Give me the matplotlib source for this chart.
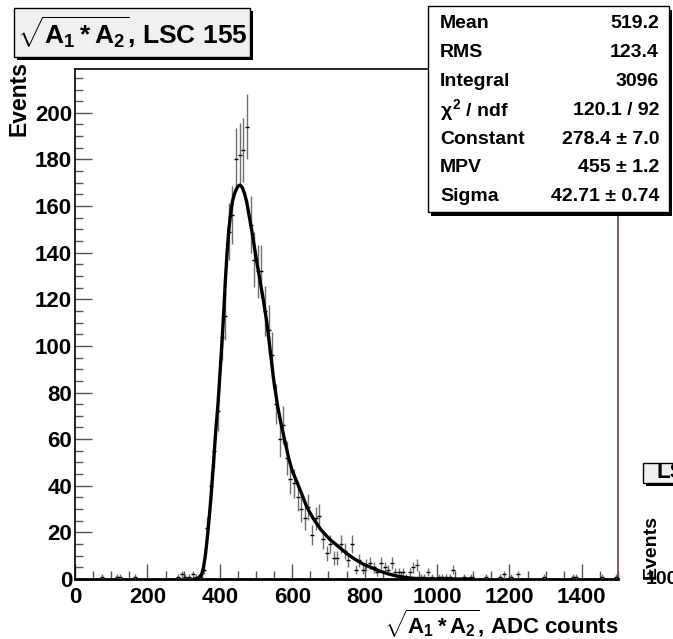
import numpy as np
import matplotlib.pyplot as plt
from matplotlib.patches import Rectangle
from matplotlib.ticker import MultipleLocator

plt.rcParams['font.family'] = ['Liberation Sans', 'DejaVu Sans']
plt.rcParams['font.weight'] = 'bold'
plt.rcParams['mathtext.fontset'] = 'custom'
plt.rcParams['mathtext.rm'] = 'Liberation Sans:bold'
plt.rcParams['mathtext.it'] = 'Liberation Sans:bold'
plt.rcParams['mathtext.bf'] = 'Liberation Sans:bold'

# histogram (bin centres, bin width 10) - only non-empty bins
centers = [75, 115, 125, 165, 285, 295, 305, 315, 325, 335, 345, 355, 365, 375, 385,
           395, 405, 415, 425, 435, 445, 455, 465, 475, 485, 495, 505, 515, 525, 535,
           545, 555, 565, 575, 585, 595, 605, 615, 625, 635, 645, 655, 665, 675, 685,
           695, 705, 715, 725, 735, 745, 755, 765, 775, 785, 795, 805, 815, 825, 835,
           845, 855, 865, 875, 885, 895, 905, 915, 925, 935, 945, 955, 965, 975, 985,
           1005, 1015, 1025, 1035, 1045, 1075, 1095, 1135, 1175, 1185, 1205, 1225,
           1295, 1375, 1385, 1455, 1495]
counts = [1, 1, 1, 1, 1, 2, 1, 1, 2, 1, 1, 4, 22, 40, 55,
          72, 104, 113, 149, 156, 180, 182, 184, 194, 152, 137, 132, 132, 115, 107,
          96, 75, 60, 66, 52, 43, 41, 35, 30, 26, 31, 19, 26, 27, 17,
          11, 15, 9, 9, 15, 12, 8, 15, 4, 8, 4, 6, 7, 5, 3,
          7, 5, 4, 7, 3, 3, 3, 1, 3, 5, 6, 1, 1, 3, 1,
          1, 1, 1, 1, 4, 1, 1, 1, 1, 2, 1, 2,
          1, 1, 1, 1, 1]

# landau fit curve
fit_x = [330, 340, 350, 355, 360, 365, 370, 375, 380, 385, 390, 395, 400, 405, 410,
         415, 420, 425, 430, 435, 440, 445, 450, 456, 462, 468, 474, 482, 490, 500,
         510, 520, 530, 540, 550, 560, 570, 580, 590, 600, 612, 625, 640, 658, 680,
         704, 727, 750, 773, 796, 820, 842, 865, 888, 910, 934, 960, 1000, 1100]
fit_y = [0, 0.3, 2, 5, 10, 17, 25, 34, 44, 55, 66, 75, 87, 99, 112,
         127, 140, 150, 157, 162, 165, 167, 168.5, 169, 168, 165.5, 162, 155, 148, 138,
         129, 120, 110, 97, 84, 74, 66, 59, 52, 46.5, 42, 37, 31, 26, 21,
         17, 14, 11, 8.5, 6.4, 4.8, 3.4, 2.2, 1.3, 0.7, 0.3, 0.1, 0, 0]

stat_names = ["Mean", "RMS", "Integral", r"$\chi^2$ / ndf", "Constant", "MPV", "Sigma"]
stat_vals = ["519.2", "123.4", "3096", "120.1 / 92", "278.4 ± 7.0", "455 ± 1.2", "42.71 ± 0.74"]

W, H = 673, 639
fig = plt.figure(figsize=(W / 100, H / 100), dpi=100)


def fx(px):
    return px / W


def fy(py):
    return 1 - py / H


ax = fig.add_axes([fx(75), fy(579), fx(618) - fx(75), fy(69) - fy(579)])
ax.errorbar(centers, counts, yerr=np.sqrt(counts), fmt='_', color='black', ms=3,
            mew=1, ecolor='#707070', elinewidth=1, capsize=0, zorder=3)
ax.plot(fit_x, fit_y, color='black', lw=2.4, zorder=4)

ax.set_xlim(0, 1500)
ax.set_ylim(0, 218.8)
ax.xaxis.set_major_locator(MultipleLocator(200))
ax.xaxis.set_minor_locator(MultipleLocator(50))
ax.yaxis.set_major_locator(MultipleLocator(20))
ax.yaxis.set_minor_locator(MultipleLocator(5))
ax.tick_params(which='both', direction='in', top=False, right=False,
               color='#555555', width=1, labelsize=16)
ax.tick_params(axis='x', which='major', length=11, pad=6)
ax.tick_params(axis='y', which='major', length=12, pad=2)
ax.tick_params(which='minor', length=5.5)
for lab in ax.get_xticklabels() + ax.get_yticklabels():
    lab.set_fontweight('bold')
ax.spines['bottom'].set_linewidth(2)
ax.spines['left'].set_linewidth(1.2)
ax.spines['top'].set_linewidth(1.2)
ax.spines['right'].set_linewidth(1.2)
ax.spines['right'].set_color('#6e4646')

fig.text(fx(19), fy(61), "Events", rotation=90, ha='center', va='top', fontsize=16.5)
fig.text(fx(618), fy(623), r"$\sqrt{A_1*A_2}$, ADC counts", ha='right', va='center',
         fontsize=16)

# title box
fig.patches.append(Rectangle((fx(17), fy(60)), fx(250) - fx(14), fy(8) - fy(57),
                             transform=fig.transFigure, facecolor='black', edgecolor='none'))
fig.patches.append(Rectangle((fx(14), fy(57)), fx(250) - fx(14), fy(8) - fy(57),
                             transform=fig.transFigure, facecolor='#f0f0f0',
                             edgecolor='black', lw=1))
fig.text(fx(17), fy(33), r"$\sqrt{A_1*A_2}$, LSC 155", ha='left', va='center', fontsize=19)

# stats box
fig.patches.append(Rectangle((fx(431), fy(216)), fx(669) - fx(428), fy(6) - fy(212),
                             transform=fig.transFigure, facecolor='black', edgecolor='none',
                             zorder=5))
fig.patches.append(Rectangle((fx(428), fy(212)), fx(669) - fx(428), fy(6) - fy(212),
                             transform=fig.transFigure, facecolor='white', edgecolor='black',
                             lw=1, zorder=6))
for i, (name, val) in enumerate(zip(stat_names, stat_vals)):
    yy = fy(24 + i * 28.8)
    fig.text(fx(440), yy, name, ha='left', va='center', fontsize=14, zorder=7)
    fig.text(fx(659), yy, val, ha='right', va='center', fontsize=14, zorder=7)

# neighbouring panel, cut off at the edge
fig.patches.append(Rectangle((fx(646), fy(486)), 0.1, fy(463) - fy(483),
                             transform=fig.transFigure, facecolor='black', edgecolor='none'))
fig.patches.append(Rectangle((fx(643), fy(483)), 0.1, fy(463) - fy(483),
                             transform=fig.transFigure, facecolor='#f0f0f0',
                             edgecolor='black', lw=1))
fig.text(fx(656), fy(473), "LSC", ha='left', va='center', fontsize=16)
fig.text(fx(651), fy(515), "Events", rotation=90, ha='center', va='top', fontsize=14)
fig.text(fx(646), fy(580), "100", ha='left', va='center', fontsize=14)

fig.savefig("out.png", dpi=100)
